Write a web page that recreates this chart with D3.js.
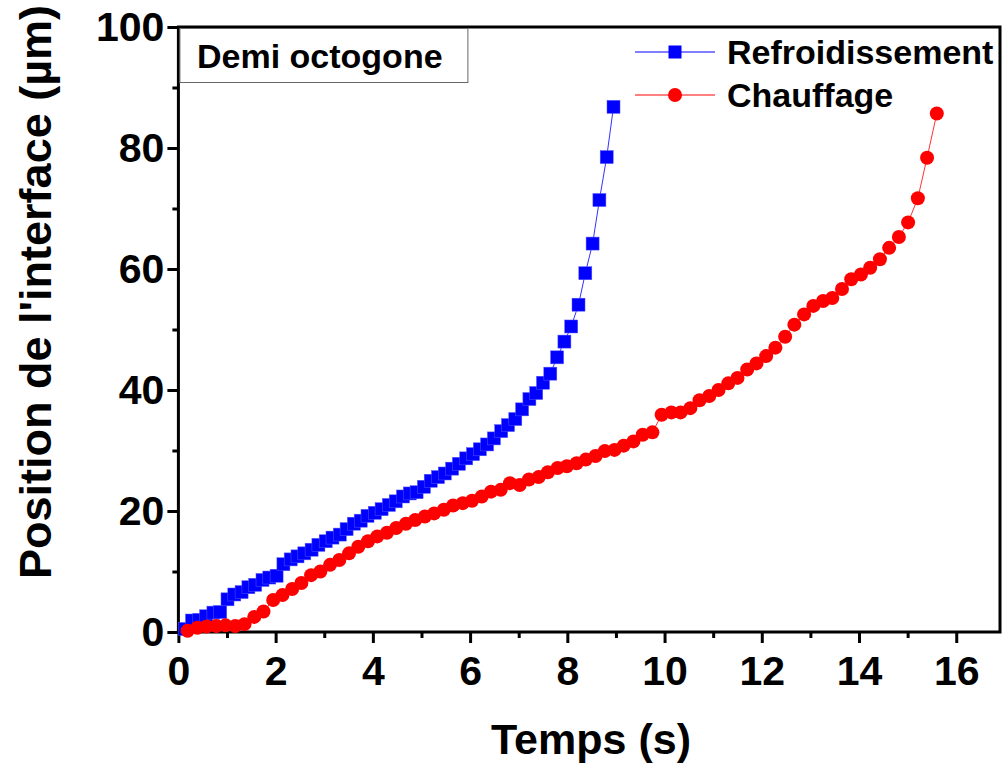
<!DOCTYPE html>
<html><head><meta charset="utf-8">
<script src="https://cdn.jsdelivr.net/npm/d3@7"></script>
<style>body{margin:0;background:#fff}svg{display:block}text{font-family:"Liberation Sans",Arial,sans-serif;font-weight:bold}</style>
</head><body>
<script>
const coolTime = [0.14,0.28,0.43,0.57,0.72,0.86,1.01,1.15,1.30,1.44,1.58,1.73,1.87,2.02,2.16,2.31,2.45,2.59,2.74,2.88,3.03,3.17,3.32,3.46,3.61,3.75,3.89,4.04,4.18,4.33,4.47,4.62,4.76,4.90,5.05,5.19,5.34,5.48,5.63,5.77,5.92,6.06,6.20,6.35,6.49,6.64,6.78,6.93,7.07,7.22,7.36,7.50,7.65,7.79,7.94,8.08,8.23,8.37,8.52,8.66,8.81,8.95];
const coolPos = [0.5,1.9,2.0,2.6,3.2,3.3,5.4,6.2,6.6,7.4,7.8,8.6,9.0,9.3,11.2,12.0,12.5,13.0,13.6,14.4,15.0,15.6,16.1,17.0,17.9,18.4,19.2,19.7,20.3,21.0,21.6,22.4,22.9,23.1,24.0,25.0,25.6,26.2,27.0,27.8,28.7,29.4,30.2,31.0,32.0,33.2,34.2,35.2,36.8,38.5,39.5,41.2,42.7,45.4,48.0,50.5,54.1,59.3,64.2,71.4,78.5,86.8];
const heatTime = [0.19,0.39,0.58,0.78,0.97,1.17,1.36,1.56,1.75,1.95,2.14,2.34,2.53,2.73,2.92,3.12,3.31,3.51,3.70,3.90,4.09,4.29,4.48,4.68,4.87,5.07,5.26,5.46,5.65,5.85,6.04,6.24,6.43,6.63,6.82,7.02,7.21,7.41,7.60,7.80,7.99,8.19,8.38,8.58,8.77,8.97,9.16,9.36,9.55,9.75,9.94,10.14,10.33,10.53,10.72,10.92,11.11,11.31,11.50,11.70,11.89,12.09,12.28,12.48,12.67,12.87,13.06,13.26,13.45,13.65,13.84,14.04,14.23,14.43,14.62,14.82,15.01,15.21,15.40,15.60];
const heatPos = [0.2,0.7,0.9,1.0,1.1,1.0,1.3,2.5,3.4,5.3,6.1,7.1,8.1,9.4,10.0,11.1,11.9,13.0,14.1,15.0,15.8,16.4,17.2,17.9,18.5,19.1,19.6,20.2,20.9,21.3,21.7,22.4,23.2,23.5,24.6,24.3,25.2,25.6,26.4,27.1,27.4,27.9,28.5,29.1,29.9,30.1,30.8,31.5,32.6,33.0,35.9,36.3,36.3,37.0,38.3,39.0,40.0,41.1,42.0,43.4,44.4,45.6,47.0,48.8,50.8,52.5,53.9,54.7,55.2,56.7,58.3,59.1,60.2,61.6,63.5,65.3,67.7,71.7,78.4,85.7];
const xTicks = [0,2,4,6,8,10,12,14,16];
const yTicks = [0,20,40,60,80,100];
const seriesNames = ["Refroidissement","Chauffage"];
const boxLabel = "Demi octogone";
const xTitle = "Temps (s)";
const yTitle = "Position de l'interface (µm)";

const W=1003,H=765;
const L=178.4,R=1000,T=27,B=632;
const svg=d3.select("body").append("svg").attr("width",W).attr("height",H);
const x=d3.scaleLinear().domain([0,16.9]).range([L,R]);
const y=d3.scaleLinear().domain([0,100]).range([B,T]);

// minor ticks
const gx=svg.append("g").attr("transform",`translate(0,${B})`);
gx.call(d3.axisBottom(x).tickValues(d3.range(1,17,2)).tickSize(6).tickFormat(""));
gx.call(g=>g.selectAll(".tick line").attr("stroke","#000").attr("stroke-width",3));
gx.select(".domain").remove();
const gxM=svg.append("g").attr("transform",`translate(0,${B})`);
gxM.call(d3.axisBottom(x).tickValues(xTicks).tickSize(11).tickPadding(13).tickFormat(d3.format("d")));
gxM.select(".domain").remove();
gxM.selectAll(".tick line").attr("stroke","#000").attr("stroke-width",3);
gxM.selectAll(".tick text").attr("font-size",41).attr("fill","#000").attr("font-family","Liberation Sans, Arial").attr("font-weight","bold");

const gy=svg.append("g").attr("transform",`translate(${L},0)`);
gy.call(d3.axisLeft(y).tickValues(d3.range(10,100,20)).tickSize(6).tickFormat(""));
gy.select(".domain").remove();
gy.selectAll(".tick line").attr("stroke","#000").attr("stroke-width",3);
const gyM=svg.append("g").attr("transform",`translate(${L},0)`);
gyM.call(d3.axisLeft(y).tickValues(yTicks).tickSize(11).tickPadding(3).tickFormat(d3.format("d")));
gyM.select(".domain").remove();
gyM.selectAll(".tick line").attr("stroke","#000").attr("stroke-width",3);
gyM.selectAll(".tick text").attr("font-size",41).attr("fill","#000").attr("font-family","Liberation Sans, Arial").attr("font-weight","bold");

// frame
svg.append("rect").attr("x",L).attr("y",T).attr("width",R-L).attr("height",B-T)
  .attr("fill","none").attr("stroke","#000").attr("stroke-width",3);

// label box
svg.append("rect").attr("x",L+1.5).attr("y",T+1.5).attr("width",288).attr("height",54)
  .attr("fill","#fff").attr("stroke","#666").attr("stroke-width",1);
svg.append("text").attr("x",197).attr("y",68).attr("font-size",34).text(boxLabel);

const cool=coolTime.map((t,i)=>({t,v:coolPos[i]}));
const heat=heatTime.map((t,i)=>({t,v:heatPos[i]}));
const line=d3.line().x(d=>x(d.t)).y(d=>y(d.v));

svg.append("path").datum(cool).attr("d",line).attr("fill","none").attr("stroke","#3333ff").attr("stroke-width",1);
svg.append("g").selectAll("rect").data(cool).join("rect")
  .attr("x",d=>x(d.t)-6.5).attr("y",d=>y(d.v)-6.5).attr("width",13).attr("height",13)
  .attr("fill","#0000ff").attr("stroke","#5555ff").attr("stroke-width",0.5);

svg.append("path").datum(heat).attr("d",line).attr("fill","none").attr("stroke","#ff3333").attr("stroke-width",1);
svg.append("g").selectAll("circle").data(heat).join("circle")
  .attr("cx",d=>x(d.t)).attr("cy",d=>y(d.v)).attr("r",7)
  .attr("fill","#ff0000");

// legend
const leg=[{name:seriesNames[0],c:"#0000ff",ly:52,shape:"sq"},{name:seriesNames[1],c:"#ff0000",ly:95,shape:"ci"}];
leg.forEach(l=>{
  svg.append("line").attr("x1",635).attr("x2",715).attr("y1",l.ly).attr("y2",l.ly).attr("stroke",l.c).attr("stroke-width",1);
  if(l.shape==="sq") svg.append("rect").attr("x",675-6.5).attr("y",l.ly-6.5).attr("width",13).attr("height",13).attr("fill",l.c);
  else svg.append("circle").attr("cx",675).attr("cy",l.ly).attr("r",7).attr("fill",l.c);
  svg.append("text").attr("x",727).attr("y",l.ly+12).attr("font-size",34).text(l.name);
});

// axis titles
svg.append("text").attr("x",591).attr("y",754).attr("text-anchor","middle").attr("font-size",43).text(xTitle);
svg.append("text").attr("transform","translate(51,292) rotate(-90)").attr("text-anchor","middle").attr("font-size",45).text(yTitle);
</script>
</body></html>
